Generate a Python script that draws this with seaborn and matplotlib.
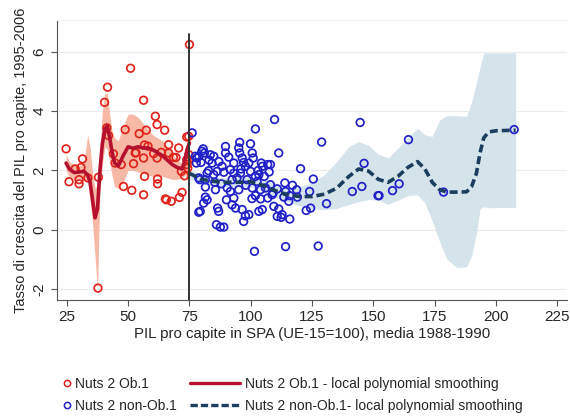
import numpy as np
import pandas as pd
import matplotlib
matplotlib.use('Agg')
import matplotlib.pyplot as plt
import seaborn as sns
from matplotlib.lines import Line2D

# --- data --------------------------------------------------------------
# Nuts 2 Ob.1 regions (GDP per head 1988-90, growth 1995-2006)
ob1_x = [24.7, 25.9, 28.4, 30.0, 30.0, 30.8, 31.4, 33.6, 37.9, 37.7, 40.4, 41.6,
         41.3, 42.0, 44.0, 44.7, 47.2, 48.1, 48.8, 51.0, 51.5, 52.2, 52.9, 53.2,
         54.5, 56.3, 56.7, 56.3, 56.7, 56.3, 57.4, 58.1, 60.4, 61.1, 61.8, 61.8,
         62.0, 62.0, 63.5, 64.9, 65.2, 66.5, 66.5, 67.6, 68.5, 69.5, 70.6, 70.9,
         72.0, 71.7, 73.0, 73.9, 74.8, 73.9, 74.3, 74.7, 75.0, 74.0, 74.7, 65.6]
ob1_y = [2.73, 1.62, 2.05, 1.69, 1.55, 2.10, 2.39, 1.75, 1.77, -1.97, 4.30, 4.81,
         3.44, 3.18, 2.56, 2.25, 2.20, 1.46, 3.38, 5.45, 1.33, 2.23, 2.59, 2.60,
         3.24, 4.37, 2.86, 2.42, 1.80, 1.18, 3.36, 2.82, 2.57, 3.83, 3.55, 2.42,
         1.71, 1.55, 2.61, 3.36, 1.04, 2.87, 2.59, 0.96, 2.44, 2.44, 2.76, 1.09,
         1.26, 1.97, 1.82, 3.13, 2.53, 2.36, 2.08, 3.15, 6.25, 2.20, 2.36, 1.01]

# Nuts 2 non-Ob.1 regions
nob1_x = [76.1, 80.6, 81.1, 78.8, 77.8, 79.7, 83.5, 84.9, 84.2, 82.8, 82.2, 86.3,
          84.9, 89.0, 88.3, 89.7, 89.7, 78.8, 81.5, 81.5, 85.3, 85.6, 81.5, 82.2,
          80.8, 79.4, 86.5, 86.9, 86.0, 87.6, 89.0, 90.4, 91.7, 90.1, 93.1, 92.4,
          93.8, 95.1, 95.5, 95.1, 95.5, 93.1, 91.7, 93.1, 95.8, 97.1, 97.8, 99.9,
          100.6, 101.0, 99.2, 99.9, 101.9, 103.3, 104.7, 104.3, 106.9, 102.6, 100.6, 104.0,
          106.0, 101.9, 104.0, 106.9, 96.5, 97.8, 99.2, 97.1, 103.3, 104.7, 101.9, 109.7,
          101.5, 108.7, 109.4, 110.8, 108.0, 110.8, 111.4, 98.5, 92.4, 94.4, 96.5, 108.0,
          120.3, 128.9, 144.6, 146.2, 145.3, 141.4, 151.9, 125.5, 124.0, 130.9, 124.4, 122.6,
          113.9, 114.2, 115.9, 118.7, 119.0, 115.5, 113.5, 111.4, 112.8, 112.4, 115.9, 114.2,
          127.5, 109.1, 152.3, 157.8, 160.5, 164.3, 178.6, 207.4, 77.4, 79.2, 78.8, 78.1,
          80.1, 87.0, 88.0, 91.0, 98.0, 103.0, 105.5, 107.5, 117.0, 100.5, 96.0, 83.0]
nob1_y = [3.27, 2.73, 2.59, 2.48, 2.25, 2.27, 2.53, 2.48, 2.25, 1.99, 1.91, 1.97,
          1.86, 1.94, 2.14, 2.81, 2.59, 1.75, 1.69, 1.44, 1.60, 1.35, 1.10, 1.01,
          0.90, 0.62, 0.73, 0.62, 0.17, 0.09, 0.09, 1.41, 1.29, 1.01, 1.07, 0.84,
          0.73, 1.35, 2.95, 2.76, 2.59, 2.25, 2.03, 1.91, 1.91, 2.27, 2.14, 2.90,
          2.59, 2.42, 2.25, 1.97, 1.80, 1.86, 2.14, 2.25, 2.20, 1.63, 1.41, 1.35,
          1.41, 1.15, 1.04, 1.07, 0.68, 0.47, 0.51, 0.28, 0.62, 0.68, 3.40, 3.72,
          -0.73, 1.18, 0.79, 0.45, 1.52, 1.38, 2.59, 1.69, 1.69, 1.75, 2.42, 2.20,
          2.06, 2.96, 3.62, 2.24, 1.46, 1.29, 1.15, 1.71, 1.29, 0.88, 0.73, 0.65,
          1.58, 1.29, 1.15, 1.35, 1.10, 0.96, 1.10, 0.70, 0.51, 0.42, 0.36, -0.57,
          -0.55, 1.24, 1.15, 1.32, 1.55, 3.04, 1.27, 3.38, 2.48, 1.69, 0.59, 2.42,
          2.65, 2.30, 1.55, 2.45, 1.50, 2.00, 1.80, 1.95, 1.50, 1.05, 2.05, 2.35]

# local polynomial smoothing, Ob.1
ob1_fit_x = [24.7, 26, 28, 30, 32, 33.5, 34.5, 35.5, 36.5, 37.5, 38.5, 39.5, 40.5, 41.5,
             42.5, 43.5, 44.5, 46, 48, 50, 52, 54, 56, 58, 60, 62, 64, 66, 68, 70,
             72, 73, 74, 75]
ob1_fit = [2.25, 2.05, 1.93, 1.95, 1.97, 1.85, 1.6, 1.0, 0.4, 0.7, 2.0, 2.9, 3.4, 3.5,
           3.1, 2.6, 2.25, 2.15, 2.5, 2.8, 2.75, 2.8, 2.76, 2.76, 2.7, 2.6, 2.5, 2.35,
           2.2, 2.1, 2.05, 2.3, 2.7, 2.93]
ob1_hi = [2.55, 2.3, 2.2, 2.15, 2.3, 3.2, 2.8, 1.9, 1.4, 1.5, 2.7, 4.0, 4.6, 4.6,
          3.9, 3.3, 3.1, 3.0, 3.5, 3.9, 3.9, 3.8, 3.6, 3.4, 3.2, 3.1, 3.0, 2.8,
          2.55, 2.35, 2.25, 2.4, 3.0, 3.85]
ob1_lo = [2.0, 1.8, 1.7, 1.75, 1.7, 1.6, 1.0, 0.2, -0.9, -2.1, 1.3, 2.2, 2.8, 2.7,
          2.3, 1.8, 1.45, 1.4, 1.6, 2.0, 2.0, 1.95, 1.9, 1.85, 1.8, 1.8, 1.8, 1.75,
          1.7, 1.7, 1.75, 1.85, 1.7, 1.63]

# local polynomial smoothing, non-Ob.1
nob1_fit_x = [75, 80, 85, 90, 95, 100, 105, 110, 115, 120, 125, 130, 135, 140, 144, 148,
              152, 156, 160, 164, 168, 171, 174, 177, 180, 184, 188, 190, 192, 193.5,
              195, 197, 200, 204, 208]
nob1_fit = [1.9, 1.7, 1.63, 1.6, 1.6, 1.62, 1.5, 1.32, 1.18, 1.12, 1.12, 1.2, 1.4, 1.8,
            2.05, 1.98, 1.7, 1.6, 1.8, 2.1, 2.3, 2.05, 1.6, 1.35, 1.27, 1.27, 1.28, 1.45,
            1.9, 2.6, 3.1, 3.3, 3.34, 3.35, 3.36]
nob1_hi = [2.05, 1.85, 1.78, 1.75, 1.75, 1.8, 1.7, 1.55, 1.45, 1.45, 1.6, 1.85, 2.3, 2.8,
           2.98, 2.85, 2.55, 2.42, 2.75, 3.1, 3.43, 3.2, 3.15, 3.7, 3.85, 3.85, 3.83, 4.3,
           4.95, 5.5, 5.97, 5.97, 5.97, 5.97, 5.97]
nob1_lo = [1.72, 1.55, 1.5, 1.45, 1.45, 1.45, 1.3, 1.1, 0.95, 0.8, 0.7, 0.68, 0.72, 0.85,
           0.95, 1.02, 1.0, 0.86, 1.0, 1.15, 1.18, 0.9, 0.3, -0.4, -1.0, -1.28, -1.25, -0.9,
           -0.1, 0.7, 0.78, 0.74, 0.75, 0.75, 0.75]

x_ticks = [25, 50, 75, 100, 125, 150, 175, 200, 225]
y_ticks = [-2, 0, 2, 4, 6]

red = '#e0241c'
blue = '#2020c8'
dark_red = '#b5102e'
navy = '#1c3e5e'

sns.set_style('white')
plt.rcParams['font.family'] = ['Liberation Sans', 'DejaVu Sans']

fig = plt.figure(figsize=(5.7, 4.16), dpi=100)
ax = fig.add_axes([0.1, 0.279, 0.895, 0.673])

# confidence bands
ax.fill_between(ob1_fit_x, ob1_lo, ob1_hi, color='#f7b9a6', lw=0, zorder=1)
ax.fill_between(nob1_fit_x, nob1_lo, nob1_hi, color='#d5e3eb', lw=0, zorder=1)

sns.scatterplot(x=ob1_x, y=ob1_y, ax=ax, color=red, facecolor='none', edgecolor=red,
                s=30, linewidth=1.25, zorder=3)
sns.scatterplot(x=nob1_x, y=nob1_y, ax=ax, color=blue, facecolor='none', edgecolor=blue,
                s=30, linewidth=1.25, zorder=3)

ob1_df = pd.DataFrame({'x': ob1_fit_x, 'y': ob1_fit})
nob1_df = pd.DataFrame({'x': nob1_fit_x, 'y': nob1_fit})
sns.lineplot(data=ob1_df, x='x', y='y', ax=ax, color=dark_red, lw=2.6, zorder=4)
sns.lineplot(data=nob1_df, x='x', y='y', ax=ax, color=navy, lw=2.6, zorder=4,
             dashes=False, linestyle=(0, (2.2, 1.1)))

ax.axvline(75, ymin=0, ymax=0.95, color='#333333', lw=1.4, zorder=5)

ax.set_xlim(21, 229)
ax.set_ylim(-2.37, 7.08)
ax.set_xticks(x_ticks)
ax.set_yticks(y_ticks)
ax.set_yticklabels([str(t) for t in y_ticks], rotation=90, va='center')
ax.tick_params(axis='both', labelsize=11, length=4, width=0.8, color='#555555',
               direction='out', bottom=True, left=True)
ax.grid(axis='y', color='#ececec', lw=0.8)
ax.set_axisbelow(True)
ax.spines['right'].set_visible(False)
ax.spines['top'].set_color('#f0f0f0')
ax.spines['left'].set_color('#555555')
ax.spines['bottom'].set_color('#555555')
ax.set_xlabel('PIL pro capite in SPA (UE-15=100), media 1988-1990', fontsize=10.8, labelpad=2)
ax.set_ylabel('Tasso di crescita del PIL pro capite, 1995-2006', fontsize=10.5, labelpad=3)

# legends below the plot
h1 = [Line2D([], [], ls='none', marker='o', mfc='none', mec=red, ms=4.5, mew=1.1),
      Line2D([], [], ls='none', marker='o', mfc='none', mec=blue, ms=4.5, mew=1.1)]
fig.legend(h1, ['Nuts 2 Ob.1', 'Nuts 2 non-Ob.1'], loc='center left',
           bbox_to_anchor=(0.09, 0.051), frameon=False, fontsize=10,
           handlelength=0.5, handletextpad=0.3, labelspacing=0.55)
h2 = [Line2D([], [], color=dark_red, lw=2.4),
      Line2D([], [], color=navy, lw=2.4, ls=(0, (2.2, 0.9)))]
fig.legend(h2, ['Nuts 2 Ob.1 - local polynomial smoothing',
                'Nuts 2 non-Ob.1- local polynomial smoothing'], loc='center left',
           bbox_to_anchor=(0.312, 0.051), frameon=False, fontsize=10,
           handlelength=3.6, handletextpad=0.3, labelspacing=0.55)

plt.savefig('out.png', dpi=100)
